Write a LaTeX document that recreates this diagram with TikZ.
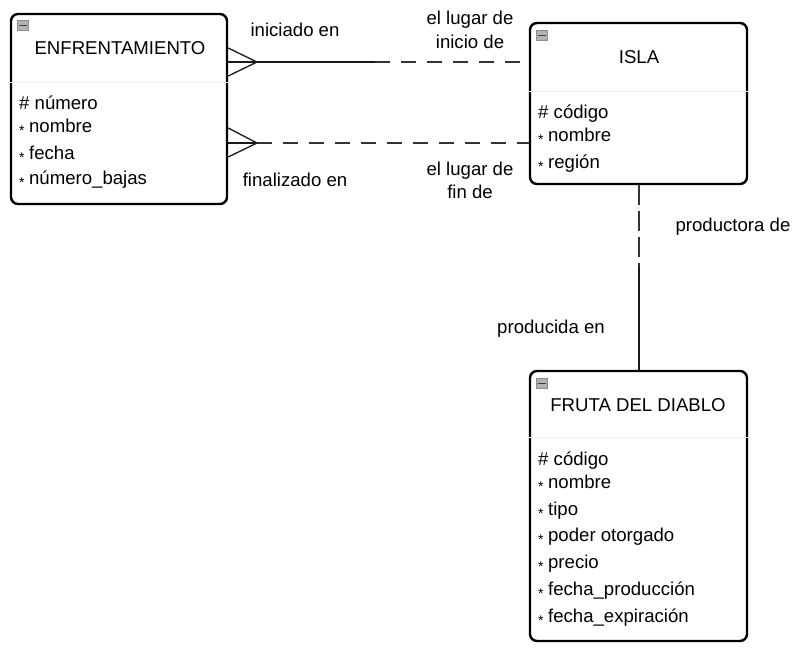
\documentclass[tikz,border=0pt]{standalone}
\usepackage{fontspec}
\setmainfont{Liberation Sans}
\newcommand\attrstar{\raisebox{-3pt}{\fontsize{14}{14}\selectfont*}\hspace{4.5pt}}
\begin{document}
\begin{tikzpicture}[x=1pt,y=-1pt,
  entity/.style={draw, line width=2.4pt, rounded corners=7pt, inner sep=0pt, fill=white},
  conn/.style={line width=1.3pt, black!90},
  dsh/.style={conn, black!80, dash pattern=on 15pt off 11pt},
  vdsh/.style={conn, black!80, dash pattern=on 20pt off 6pt},
  lbl/.style={font=\fontsize{18.6}{22}\selectfont, inner sep=0pt, anchor=base},
  attr/.style={font=\fontsize{18.6}{22}\selectfont, inner sep=0pt, anchor=base west},
  sep/.style={black!5, line width=0.8pt},
  iconbox/.style={draw=black!45, fill=black!30, line width=0.6pt, minimum width=11pt, minimum height=10pt, inner sep=0pt},
  ]
\useasboundingbox (0,0) rectangle (810,666);
\fill[white] (0,0) rectangle (810,666);

% entities
\node[entity, minimum width=216pt, minimum height=190pt] (enf) at (119,109) {};
\node[entity, minimum width=217pt, minimum height=161pt] (isla) at (638.5,103.5) {};
\node[entity, minimum width=217pt, minimum height=270pt] (fruta) at (638.5,506) {};

% faint separators
\draw[sep] (enf.west |- 0,82) -- (enf.east |- 0,82);
\draw[sep] (isla.west |- 0,91) -- (isla.east |- 0,91);
\draw[sep] (fruta.west |- 0,437) -- (fruta.east |- 0,437);

% minimize icons
\node[iconbox] (enficon) at (23,25.5) {};
\draw[black!75, line width=1.6pt] ([xshift=2pt]enficon.west) -- ([xshift=-2pt]enficon.east);
\node[iconbox] (islaicon) at (542,35.5) {};
\draw[black!75, line width=1.6pt] ([xshift=2pt]islaicon.west) -- ([xshift=-2pt]islaicon.east);
\node[iconbox] (frutaicon) at (542,383.5) {};
\draw[black!75, line width=1.6pt] ([xshift=2pt]frutaicon.west) -- ([xshift=-2pt]frutaicon.east);

% titles
\node[lbl] (enft) at (120,55) {ENFRENTAMIENTO};
\node[lbl] (islat) at (639,64) {ISLA};
\node[lbl] (frutat) at (638,411) {FRUTA DEL DIABLO};

% attributes ENFRENTAMIENTO
\node[attr] (e1) at (19,110) {\# número};
\node[attr] (e2) at (19,132) {\attrstar nombre};
\node[attr] (e3) at (19,159) {\attrstar fecha};
\node[attr] (e4) at (19,184) {\attrstar número\_bajas};

% attributes ISLA
\node[attr] (i1) at (538,118) {\# código};
\node[attr] (i2) at (538,141) {\attrstar nombre};
\node[attr] (i3) at (538,168) {\attrstar región};

% attributes FRUTA
\node[attr] (f1) at (538,465) {\# código};
\node[attr] (f2) at (538,488) {\attrstar nombre};
\node[attr] (f3) at (538,515) {\attrstar tipo};
\node[attr] (f4) at (538,541) {\attrstar poder otorgado};
\node[attr] (f5) at (538,568) {\attrstar precio};
\node[attr] (f6) at (538,595) {\attrstar fecha\_producción};
\node[attr] (f7) at (538,622) {\attrstar fecha\_expiración};

% connector 1: iniciado en
\coordinate (a0) at (enf.east |- 0,62);
\coordinate (at) at (257,62);
\coordinate (au) at (enf.east |- 0,48);
\coordinate (ad) at (enf.east |- 0,76);
\coordinate (am) at (375,62);
\coordinate (a1) at (isla.west |- 0,62);
\draw[conn] (a0) -- (am);
\draw[dsh] (am) -- (a1);
\draw[conn] (au) -- (at) -- (ad);

% connector 2: finalizado en
\coordinate (b0) at (enf.east |- 0,143);
\coordinate (bt) at (257,143);
\coordinate (bu) at (enf.east |- 0,128);
\coordinate (bd) at (enf.east |- 0,157);
\coordinate (b1) at (isla.west |- 0,143);
\draw[conn] (b0) -- (bt);
\draw[dsh] (bt) -- (b1);
\draw[conn] (bu) -- (bt) -- (bd);

% connector 3: productora / producida
\coordinate (c0) at (isla.south -| 639,0);
\coordinate (cm) at (639,267);
\coordinate (c1) at (fruta.north -| 639,0);
\draw[vdsh] (c0) -- (cm);
\draw[conn] (cm) -- (c1);

% relationship labels
\node[lbl] (l1) at (295,37) {iniciado en};
\node[lbl] (l2a) at (470,25) {el lugar de};
\node[lbl] (l2b) at (470,49) {inicio de};
\node[lbl] (l3) at (295,186) {finalizado en};
\node[lbl] (l4a) at (470,175) {el lugar de};
\node[lbl] (l4b) at (470,198) {fin de};
\node[lbl] (l5) at (733,231) {productora de};
\node[lbl] (l6) at (551,333) {producida en};
\end{tikzpicture}
\end{document}
